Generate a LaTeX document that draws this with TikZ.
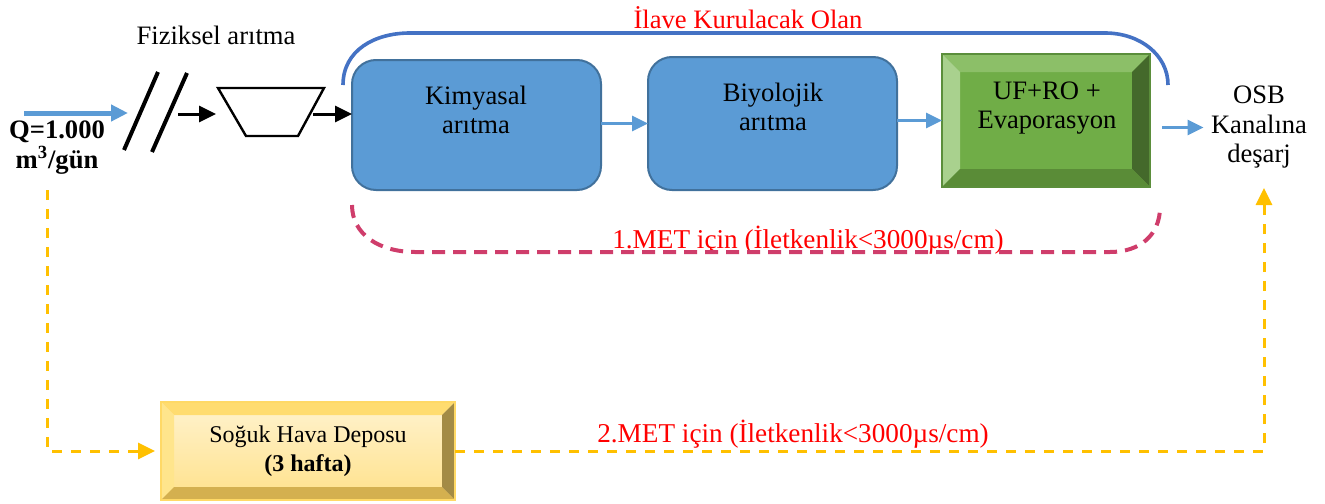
\documentclass[tikz,border=0pt]{standalone}
\usepackage{fontspec}
\setmainfont{Liberation Serif}
\usetikzlibrary{arrows.meta,calc}

\definecolor{boxblue}{HTML}{5B9BD5}
\definecolor{boxedge}{HTML}{41719C}
\definecolor{arcblue}{HTML}{4472C4}
\definecolor{metred}{HTML}{FF0000}
\definecolor{dashred}{HTML}{CF3D6B}
\definecolor{dashyel}{HTML}{FFC000}
% green bevelled box
\definecolor{grmid}{HTML}{70AD47}
\definecolor{grtop}{HTML}{8CBF68}
\definecolor{grleft}{HTML}{A9D18E}
\definecolor{grright}{HTML}{44692B}
\definecolor{grbot}{HTML}{5A8C37}
\definecolor{gredge}{HTML}{5B8E3B}
% yellow bevelled box
\definecolor{yemidA}{HTML}{FFF3CF}
\definecolor{yemidB}{HTML}{FFE18A}
\definecolor{yetop}{HTML}{FFDC70}
\definecolor{yeleft}{HTML}{FFE58C}
\definecolor{yeright}{HTML}{A38B45}
\definecolor{yebot}{HTML}{D4B04F}
\definecolor{yeedge}{HTML}{FFD966}

% bevel faces of a rectangular node: name, depth, top, left, right, bottom, edge
\newcommand\bevelfaces[7]{%
  \fill[#3] (#1.north west) -- (#1.north east) -- ($(#1.north east)+(-#2,#2)$) -- ($(#1.north west)+(#2,#2)$) -- cycle;
  \fill[#4] (#1.north west) -- ($(#1.north west)+(#2,#2)$) -- ($(#1.south west)+(#2,-#2)$) -- (#1.south west) -- cycle;
  \fill[#5] (#1.north east) -- ($(#1.north east)+(-#2,#2)$) -- ($(#1.south east)+(-#2,-#2)$) -- (#1.south east) -- cycle;
  \fill[#6] (#1.south west) -- ($(#1.south west)+(#2,-#2)$) -- ($(#1.south east)+(-#2,-#2)$) -- (#1.south east) -- cycle;
  \draw[#7, line width=1pt] (#1.north west) rectangle (#1.south east);
}

\tikzset{
  txt/.style={font=\fontsize{13.3}{14.75}\selectfont, align=center, inner sep=0pt},
  redtxt/.style={txt, text=metred},
  procbox/.style={rectangle, rounded corners=12pt, fill=boxblue, draw=boxedge,
    line width=1pt, inner sep=0pt, outer sep=0pt},
  bevelbox/.style={rectangle, inner sep=0pt, outer sep=0pt},
  inflow/.style={draw=boxblue, line width=2.5pt, -{Triangle[length=8.5pt,width=8pt]}},
  blackflow/.style={draw=black, line width=1.5pt, -{Triangle[length=8.5pt,width=8pt]}},
  blueflow/.style={draw=boxblue, line width=1.3pt, -{Triangle[length=8pt,width=7.5pt]}},
  yelflow/.style={draw=dashyel, line width=1.5pt, dash pattern=on 5pt off 4.5pt,
    -{Triangle[length=8.5pt,width=8pt]}},
  slashline/.style={draw=black, line width=2pt},
  funnel/.style={draw=black, line width=1.2pt},
  bracearc/.style={draw=arcblue, line width=1.8pt},
  bracedash/.style={draw=dashred, line width=2pt, dash pattern=on 6.5pt off 4pt},
}

\begin{document}
\begin{tikzpicture}[x=0.5pt, y=-0.5pt]
\useasboundingbox (0,0) rectangle (1325,503);

% process boxes
\node[procbox, minimum width=124.5pt, minimum height=65pt] (kim) at (476.5,125) {};
\node[txt] (kimtxt) at (476,110) {Kimyasal\\arıtma};
\node[procbox, minimum width=124.5pt, minimum height=66.5pt] (bio) at (772.5,123.5) {};
\node[txt] (biotxt) at (773,107) {Biyolojik\\arıtma};

\node[bevelbox, fill=grmid, minimum width=104pt, minimum height=66.5pt] (uf) at (1046,120.5) {};
\bevelfaces{uf}{18}{grtop}{grleft}{grright}{grbot}{gredge}
\node[txt] (uftxt) at (1047,108) {UF+RO +\\Evaporasyon};

\node[bevelbox, top color=yemidA, bottom color=yemidB, minimum width=147pt, minimum height=49pt] (cold) at (308,451) {};
\bevelfaces{cold}{13}{yetop}{yeleft}{yeright}{yebot}{yeedge}
\node[txt, font=\fontsize{12}{14.5}\selectfont] (coldtxt) at (308,451.5) {Soğuk Hava Deposu\\\textbf{(3 hafta)}};

% texts
\node[txt] (fiz) at (216,35) {Fiziksel arıtma};
\node[txt, font=\bfseries\fontsize{13.3}{15}\selectfont] (q) at (57,148) {Q=1.000\\m\textsuperscript{3}/gün};
\node[txt, inner sep=3.5pt] (osb) at (1259,127.5) {OSB\\Kanalına\\deşarj};
\node[redtxt] (ilave) at (748,18) {İlave Kurulacak Olan};
\node[redtxt, font=\fontsize{13.6}{15}\selectfont] (met1) at (808,240) {1.MET için (İletkenlik<3000µs/cm)};
\node[redtxt, font=\fontsize{13.6}{15}\selectfont] (met2) at (793,434) {2.MET için (İletkenlik<3000µs/cm)};

% physical treatment: screen and settling funnel
\draw[slashline] (124,150) -- (158,72);
\draw[slashline] (152,152) -- (187,73);
\draw[funnel] (218,88) -- (324,88) -- (298,136) -- (246,136) -- cycle;

\coordinate (inflowstart) at (24,113);
\coordinate (screenin) at (128,113);
\coordinate (screenout) at (178,114);
\coordinate (funnelin) at (216,114);
\coordinate (funnelout) at (313,114);
\coordinate (osbin) at (1264,188);
\coordinate (coldstart) at (47,190);

% flows
\draw[inflow] (inflowstart) -- (screenin);
\draw[blackflow] (screenout) -- (funnelin);
\draw[blackflow] (funnelout) -- (funnelout -| kim.west);
\draw[blueflow] ($(kim.east)+(0,-1.5)$) -- ($(kim.east -| bio.west)+(0,-1.5)$);
\draw[blueflow] (bio.east |- uf.west) -- (uf.west);
\draw[blueflow] ($(uf.east |- osb.west)+(12,0)$) -- (osb.west);

\draw[yelflow, shorten >=3pt] (coldstart) |- (cold.west);
\draw[yelflow] (cold.east) -| (osbin);

% grouping braces
\draw[bracearc] (343,85) .. controls (343,50) and (375,33) .. (410,33) -- (1105,33)
  .. controls (1140,33) and (1168,55) .. (1168,85);
\draw[bracedash] (352,205) .. controls (352,235) and (380,252) .. (415,252) -- (1110,252)
  .. controls (1140,252) and (1160,235) .. (1160,207);
\end{tikzpicture}
\end{document}
